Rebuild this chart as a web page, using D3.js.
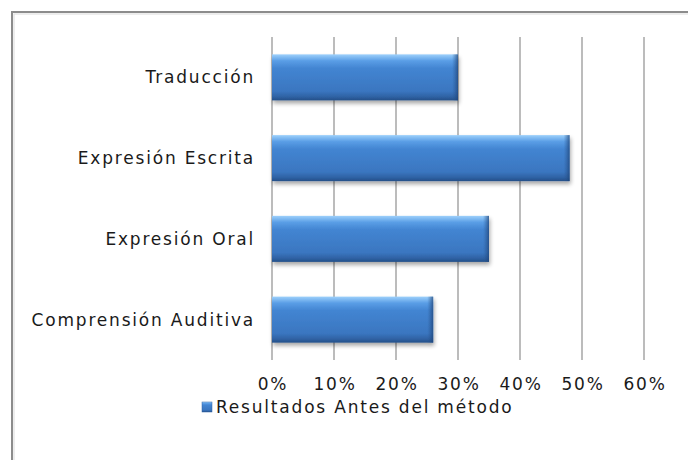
<!DOCTYPE html>
<html>
<head>
<meta charset="utf-8">
<script src="https://cdn.jsdelivr.net/npm/d3@7"></script>
<style>
  body { margin: 0; background: #fff; }
  text { font-family: "DejaVu Sans", Verdana, sans-serif; fill: #1a1a1a; letter-spacing: 1.8px; }
</style>
</head>
<body>
<div id="content"></div>
<script>
const categories = ["Traducción", "Expresión Escrita", "Expresión Oral", "Comprensión Auditiva"];
const values = [0.30, 0.48, 0.35, 0.26];
const tickValues = [0, 0.1, 0.2, 0.3, 0.4, 0.5, 0.6];
const seriesName = "Resultados Antes del método";

const W = 688, H = 460;
const svg = d3.select("#content").append("svg")
  .attr("width", W).attr("height", H);

const defs = svg.append("defs");

const grad = defs.append("linearGradient")
  .attr("id", "barGrad").attr("x1", 0).attr("y1", 0).attr("x2", 0).attr("y2", 1);
grad.append("stop").attr("offset", "0%").attr("stop-color", "#9dd0fb");
grad.append("stop").attr("offset", "14%").attr("stop-color", "#5a9ee6");
grad.append("stop").attr("offset", "30%").attr("stop-color", "#4385d2");
grad.append("stop").attr("offset", "80%").attr("stop-color", "#3a76c0");
grad.append("stop").attr("offset", "92%").attr("stop-color", "#2f62a4");
grad.append("stop").attr("offset", "100%").attr("stop-color", "#244f88");

const endGrad = defs.append("linearGradient")
  .attr("id", "endGrad").attr("x1", 0).attr("y1", 0).attr("x2", 1).attr("y2", 0);
endGrad.append("stop").attr("offset", "0%").attr("stop-color", "#2a5792").attr("stop-opacity", 0);
endGrad.append("stop").attr("offset", "100%").attr("stop-color", "#1f4478").attr("stop-opacity", 0.75);

const shadow = defs.append("filter").attr("id", "shadow")
  .attr("x", "-10%").attr("y", "-20%").attr("width", "130%").attr("height", "160%");
shadow.append("feGaussianBlur").attr("in", "SourceAlpha").attr("stdDeviation", 2.2);
shadow.append("feOffset").attr("dx", 1).attr("dy", 3).attr("result", "off");
shadow.append("feComponentTransfer").append("feFuncA").attr("type", "linear").attr("slope", 0.35);
const merge = shadow.append("feMerge");
merge.append("feMergeNode");
merge.append("feMergeNode").attr("in", "SourceGraphic");

// chart frame (only left/top edges fall inside the picture)
svg.append("rect")
  .attr("x", 12).attr("y", 12).attr("width", 720).attr("height", 520)
  .attr("fill", "none").attr("stroke", "#8c8c8c").attr("stroke-width", 2);
svg.append("rect")
  .attr("x", 14).attr("y", 14).attr("width", 720).attr("height", 520)
  .attr("fill", "none").attr("stroke", "#e2e2e2").attr("stroke-width", 1.2);

const x = d3.scaleLinear().domain([0, 0.6]).range([272, 644]);
const y = d3.scaleBand().domain(categories).range([37, 360])
  .paddingInner(0.43).paddingOuter(0.215);

// vertical gridlines
svg.append("g").selectAll("line")
  .data(tickValues).enter().append("line")
  .attr("x1", d => x(d)).attr("x2", d => x(d))
  .attr("y1", 37).attr("y2", 360)
  .attr("stroke", "#a6a6a6").attr("stroke-width", 1.5);

// bars
const bars = svg.append("g").selectAll("g")
  .data(categories.map((c, i) => ({ cat: c, v: values[i] })))
  .enter().append("g")
  .attr("filter", "url(#shadow)");

bars.append("rect")
  .attr("x", x(0)).attr("y", d => y(d.cat))
  .attr("width", d => x(d.v) - x(0)).attr("height", y.bandwidth())
  .attr("fill", "url(#barGrad)");

bars.append("rect")
  .attr("x", d => x(d.v) - 6).attr("y", d => y(d.cat))
  .attr("width", 6).attr("height", y.bandwidth())
  .attr("fill", "url(#endGrad)");

// category labels
svg.append("g").selectAll("text")
  .data(categories).enter().append("text")
  .attr("x", 255).attr("y", d => y(d) + y.bandwidth() / 2)
  .attr("dy", "0.35em").attr("text-anchor", "end")
  .attr("font-size", 17)
  .text(d => d);

// tick labels
const fmt = d3.format(".0%");
svg.append("g").selectAll("text")
  .data(tickValues).enter().append("text")
  .attr("x", d => x(d) + 1).attr("y", 384)
  .attr("dy", "0.35em").attr("text-anchor", "middle")
  .attr("font-size", 17)
  .text(d => fmt(d));

// legend
const legend = svg.append("g").attr("transform", "translate(202,402)");
legend.append("rect").attr("width", 10).attr("height", 10)
  .attr("fill", "url(#barGrad)").attr("stroke", "#2f62a4").attr("stroke-width", 0.5);
legend.append("text").attr("x", 14).attr("y", 5.5).attr("dy", "0.35em")
  .attr("font-size", 17).text(seriesName);
</script>
</body>
</html>
